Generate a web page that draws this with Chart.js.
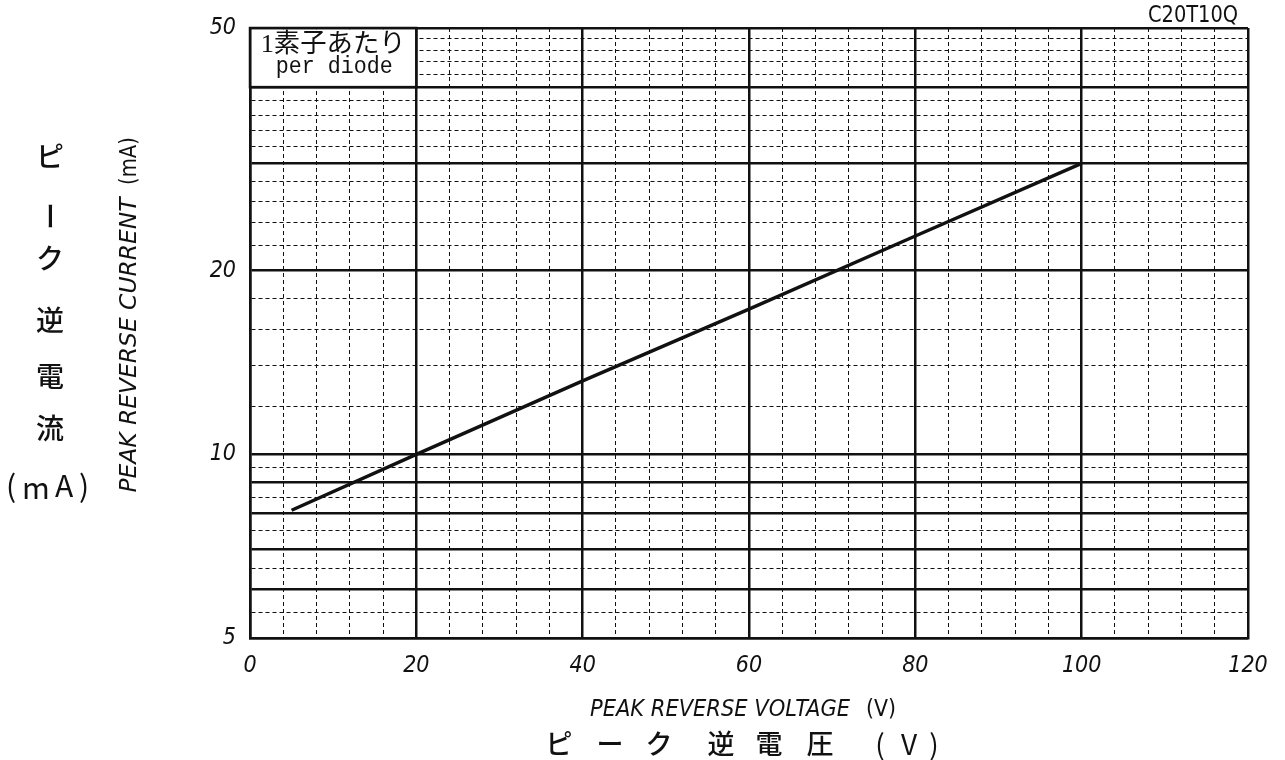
<!DOCTYPE html>
<html>
<head>
<meta charset="utf-8">
<script src="https://cdn.jsdelivr.net/npm/chart.js@4/dist/chart.umd.min.js"></script>
<style>
html,body{margin:0;padding:0;background:#fff;}
#wrap{width:1285px;height:760px;position:relative;}
</style>
</head>
<body>
<div id="wrap"><canvas id="c"></canvas></div>
<script>
// ---- data ----
const voltage = [5, 20, 40, 60, 80, 100];          // V
const current = [8.1, 10, 13.2, 17.3, 22.8, 30];   // mA

// ---- axes ----
const xMajor = [0, 20, 40, 60, 80, 100, 120];
const xGrid = [0,4,8,12,16,20,24,28,32,36,40,44,48,52,56,60,64,68,72,76,80,84,88,92,96,100,104,108,112,116,120];
const yTickLabels = [5, 10, 20, 50];
const yMajor = [5, 6, 7, 8, 9, 10, 20, 30, 40, 50];
const yGrid = [5,5.5,6,6.5,7,7.5,8,8.5,9,9.5,10,12,14,16,18,20,22,24,26,28,30,32,34,36,38,40,42,44,46,48,50];

const NARROW = "'Liberation Sans Narrow','DejaVu Sans Condensed','Roboto Condensed',Roboto,sans-serif";
const INK = '#111';

function fitText(ctx, text, cx, cy, w, font, rot){
  ctx.save();
  ctx.font = font;
  const m = ctx.measureText(text).width;
  ctx.translate(cx, cy);
  ctx.rotate(rot || 0);
  ctx.scale(w / m, 1);
  ctx.textAlign = 'center';
  ctx.textBaseline = 'middle';
  ctx.fillStyle = INK;
  ctx.fillText(text, 0, 0);
  ctx.restore();
}
function charAt(ctx, ch, cx, cy, font, rot){
  ctx.save();
  ctx.font = font;
  ctx.translate(cx, cy);
  ctx.rotate(rot || 0);
  ctx.textAlign = 'center';
  ctx.textBaseline = 'middle';
  ctx.fillStyle = INK;
  ctx.fillText(ch, 0, 0);
  ctx.restore();
}

const decor = {
  id: 'decor',
  afterDraw(chart){
    const ctx = chart.ctx;
    const xs = chart.scales.x, ys = chart.scales.y;
    // legend box "per diode"
    const x0 = xs.getPixelForValue(0), x1 = xs.getPixelForValue(20);
    const y0 = ys.getPixelForValue(50), y1 = ys.getPixelForValue(40);
    ctx.save();
    ctx.fillStyle = '#fff';
    ctx.fillRect(x0 + 1.5, y0 + 1.5, x1 - x0 - 2.5, y1 - y0 - 2.5);
    ctx.strokeStyle = INK;
    ctx.lineWidth = 2.5;
    ctx.strokeRect(x0, y0, x1 - x0, y1 - y0);
    ctx.restore();
    fitText(ctx, '1素子あたり', (x0 + x1) / 2, y0 + 17, 145, "26px 'Liberation Serif','Noto Sans CJK JP',serif");
    fitText(ctx, 'per diode', (x0 + x1) / 2 + 1, y0 + 39, 117, "23px 'Liberation Mono','Liberation Serif',monospace");

    // part number
    fitText(ctx, 'C20T10Q', 1193, 16, 90, "23px " + NARROW);

    // y-axis English title (rotated)
    fitText(ctx, 'PEAK REVERSE CURRENT', 130, 345, 295, "italic 23px " + NARROW, -Math.PI / 2);
    fitText(ctx, '(mA)', 130, 161, 48, "23px " + NARROW, -Math.PI / 2);

    // y-axis Japanese title (vertical)
    const jf = "500 28px 'Noto Sans CJK JP',sans-serif";
    charAt(ctx, 'ピ', 50, 156, jf);
    charAt(ctx, 'ー', 50, 216, jf, Math.PI / 2);
    charAt(ctx, 'ク', 50, 258, jf);
    charAt(ctx, '逆', 50, 320, jf);
    charAt(ctx, '電', 50, 376, jf);
    charAt(ctx, '流', 50, 428, jf);
    const pf = "30px 'Noto Sans CJK JP',sans-serif";
    charAt(ctx, '(', 11, 486, pf);
    charAt(ctx, 'm', 36, 488, pf);
    charAt(ctx, 'A', 64, 486, pf);
    charAt(ctx, ')', 84, 486, pf);

    // x-axis titles
    fitText(ctx, 'PEAK REVERSE VOLTAGE', 720, 710, 260, "italic 23px " + NARROW);
    fitText(ctx, '(V)', 881, 710, 30, "23px " + NARROW);
    const bf = "500 27px 'Noto Sans CJK JP',sans-serif";
    charAt(ctx, 'ピ', 559, 744, bf);
    charAt(ctx, 'ー', 610, 744, bf);
    charAt(ctx, 'ク', 659, 744, bf);
    charAt(ctx, '逆', 721, 744, bf);
    charAt(ctx, '電', 769, 744, bf);
    charAt(ctx, '圧', 820, 744, bf);
    const vf = "28px 'Noto Sans CJK JP',sans-serif";
    charAt(ctx, '(', 880, 744, vf);
    charAt(ctx, 'V', 909, 744, vf);
    charAt(ctx, ')', 934, 744, vf);
  }
};

new Chart(document.getElementById('c'), {
  type: 'scatter',
  data: {
    datasets: [{
      data: voltage.map((v, i) => ({ x: v, y: current[i] })),
      showLine: true,
      borderColor: INK,
      borderWidth: 3.4,
      pointRadius: 0,
      tension: 0
    }]
  },
  options: {
    responsive: true,
    maintainAspectRatio: false,
    animation: false,
    devicePixelRatio: 1,
    layout: { padding: { left: 0, right: 37, top: 28, bottom: 0 } },
    plugins: { legend: { display: false }, tooltip: { enabled: false } },
    scales: {
      x: {
        type: 'linear', min: 0, max: 120,
        afterBuildTicks: (s) => { s.ticks = xGrid.map(v => ({ value: v })); },
        afterFit: (s) => { s.height = 122; },
        ticks: {
          autoSkip: false, maxRotation: 0, padding: 14, color: INK,
          font: { family: NARROW, size: 23, style: 'italic' },
          callback: (v) => xMajor.includes(v) ? String(v) : ''
        },
        grid: {
          drawTicks: false, color: INK,
          lineWidth: (c) => xMajor.includes(c.tick.value) ? 2.5 : 1
        },
        border: {
          display: true, color: INK, width: 2.5,
          dash: (c) => (c.tick && !xMajor.includes(c.tick.value)) ? [4, 3] : []
        }
      },
      y: {
        type: 'logarithmic', min: 5, max: 50,
        afterBuildTicks: (s) => { s.ticks = yGrid.map(v => ({ value: v })); },
        afterFit: (s) => { s.width = 250; },
        ticks: {
          autoSkip: false, padding: 14, color: INK,
          font: { family: NARROW, size: 23, style: 'italic' },
          callback: (v) => yTickLabels.includes(v) ? String(v) : ''
        },
        grid: {
          drawTicks: false, color: INK,
          lineWidth: (c) => yMajor.includes(c.tick.value) ? 2.5 : 1
        },
        border: {
          display: true, color: INK, width: 2.5,
          dash: (c) => (c.tick && !yMajor.includes(c.tick.value)) ? [4, 3] : []
        }
      }
    }
  },
  plugins: [decor]
});
</script>
</body>
</html>
